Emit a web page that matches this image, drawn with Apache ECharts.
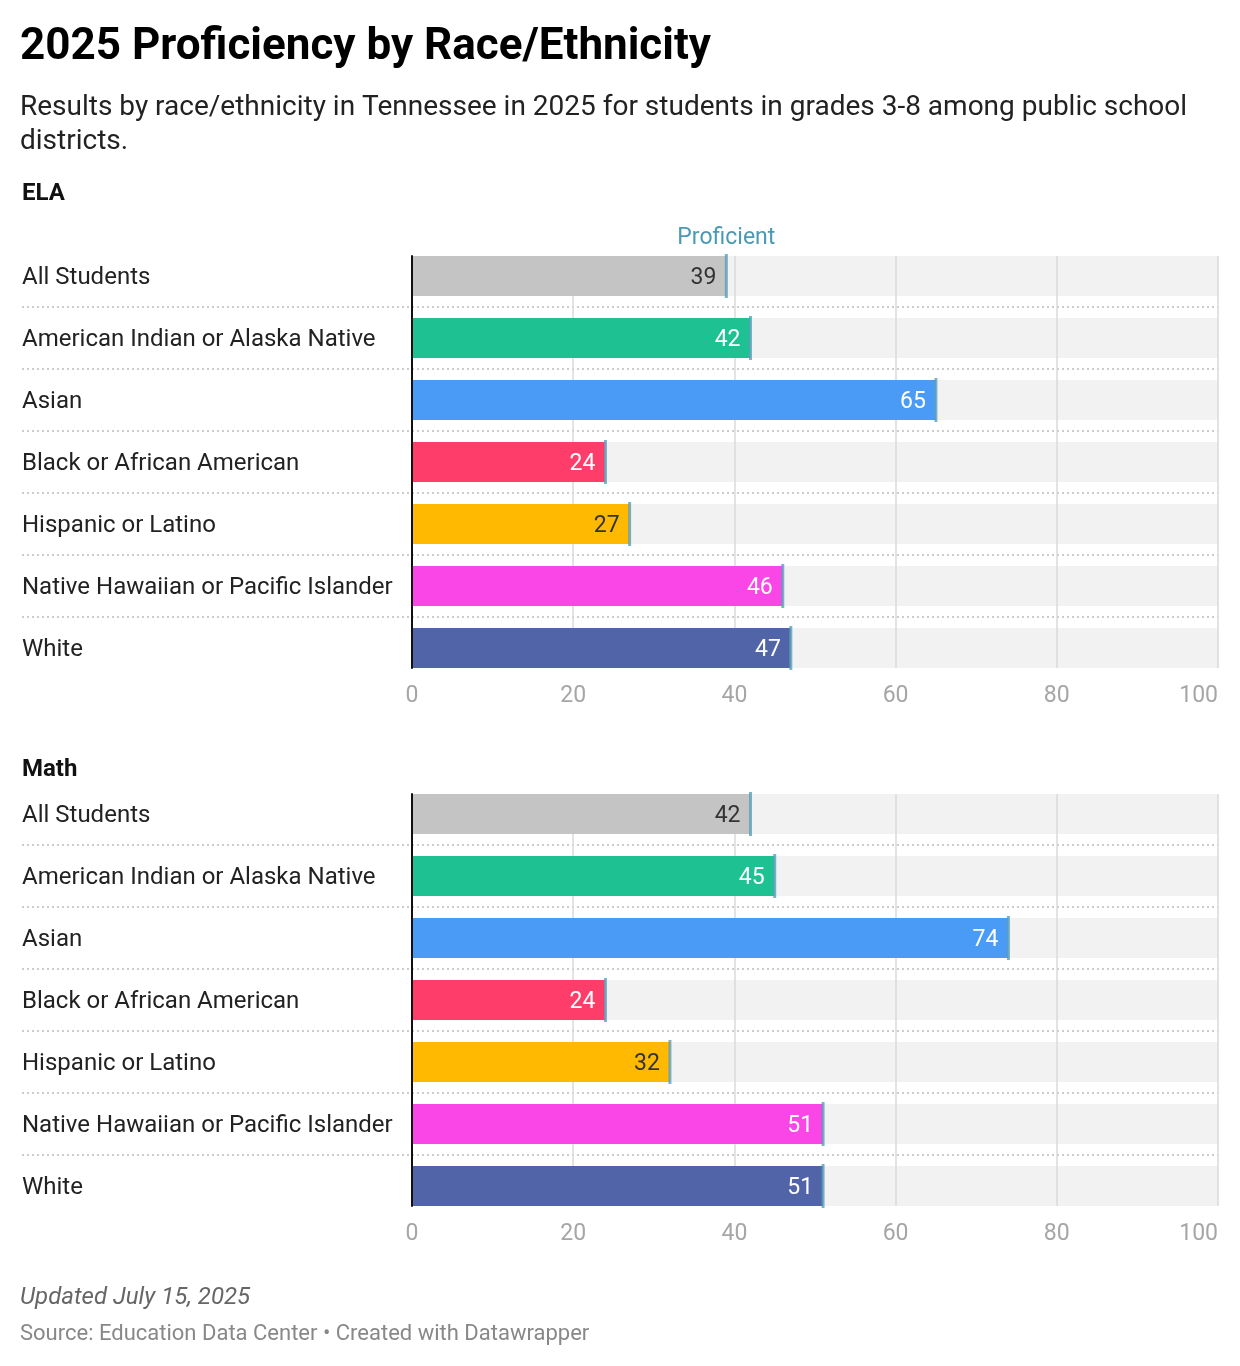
<!DOCTYPE html>
<html>
<head>
<meta charset="utf-8">
<style>
  html, body { margin: 0; padding: 0; background: #ffffff; }
  #chart { width: 1240px; height: 1366px; }
</style>
<script src="https://cdn.jsdelivr.net/npm/echarts@6/dist/echarts.min.js"></script>
</head>
<body>
<div id="chart"></div>
<script>
// ---- Data ----
const categories = [
  'All Students',
  'American Indian or Alaska Native',
  'Asian',
  'Black or African American',
  'Hispanic or Latino',
  'Native Hawaiian or Pacific Islander',
  'White'
];
const elaValues = [39, 42, 65, 24, 27, 46, 47];
const mathValues = [42, 45, 74, 24, 32, 51, 51];
const xTicks = [0, 20, 40, 60, 80, 100];
const AXIS_MAX = 100;

const barColors = ['#c4c4c4', '#1ec192', '#4a9bf5', '#fe3d6a', '#ffb900', '#fa46e6', '#5164a8'];
const labelColors = ['#333333', '#ffffff', '#ffffff', '#ffffff', '#333333', '#ffffff', '#ffffff'];
const FONT = 'Roboto, "Noto Sans", sans-serif';

function makeSection(idx, top, values, showProficient) {
  const a = idx * 3, b = idx * 3 + 1, c = idx * 3 + 2;
  const grids = [
    { left: 412, right: 22, top: top, height: 434 },
    { left: 412, right: 22, top: top + 11, height: 412 },
    { left: 22, right: 22, top: top + 62, height: 310 }
  ];
  const xAxes = [
    { gridIndex: a, type: 'value', min: 0, max: AXIS_MAX, interval: xTicks[1] - xTicks[0],
      axisLine: { show: false }, axisTick: { show: false }, splitLine: { show: false },
      axisLabel: { show: true, margin: 6, fontSize: 23, color: '#a6a6a6', fontFamily: FONT,
        alignMaxLabel: 'right' } },
    { gridIndex: b, type: 'value', min: 0, max: AXIS_MAX, interval: xTicks[1] - xTicks[0], z: 2,
      axisLine: { show: false }, axisTick: { show: false }, axisLabel: { show: false },
      splitLine: { show: true, lineStyle: { color: '#dadada', width: 1.5 } } },
    { gridIndex: c, type: 'value', min: 0, max: 1, show: false }
  ];
  const yAxes = [
    { gridIndex: a, type: 'category', inverse: true, data: categories,
      axisLine: { show: false }, axisTick: { show: false }, splitLine: { show: false },
      axisLabel: { align: 'left', margin: 390,
        formatter: (v) => '{c|' + v + '}',
        rich: { c: { fontSize: 24, color: '#222222', fontFamily: FONT, padding: [4, 0, 0, 0] } } } },
    { gridIndex: b, type: 'value', min: 0, max: 1, z: 6,
      axisLine: { show: true, onZero: false, lineStyle: { color: '#111111', width: 2 } },
      axisTick: { show: false }, axisLabel: { show: false }, splitLine: { show: false } },
    { gridIndex: c, type: 'value', min: 0, max: 5, interval: 1, z: 1,
      axisLine: { show: false }, axisTick: { show: false }, axisLabel: { show: false },
      splitLine: { show: true, lineStyle: { color: '#cccccc', width: 2, type: [2, 3] } } }
  ];
  const series = [
    { type: 'bar', xAxisIndex: a, yAxisIndex: a, barWidth: 40, barGap: '-100%', z: 1,
      silent: true, itemStyle: { color: '#f2f2f2' },
      data: categories.map(() => AXIS_MAX) },
    { type: 'bar', xAxisIndex: a, yAxisIndex: a, barWidth: 40, barGap: '-100%', z: 3,
      data: values.map((v, i) => ({
        value: v,
        itemStyle: { color: barColors[i] },
        label: { color: labelColors[i] }
      })),
      label: { show: true, position: 'insideRight', distance: 10, offset: [0, 2],
        fontSize: 23, fontFamily: FONT } },
    { type: 'scatter', xAxisIndex: a, yAxisIndex: a, symbol: 'rect', symbolSize: [3, 44], z: 5,
      itemStyle: { color: '#5a9fb9' },
      data: values.map((v, i) => {
        const item = { value: [v, categories[i]] };
        if (showProficient && i === 0) {
          item.label = { show: true, position: 'top', distance: 4, formatter: 'Proficient',
            fontSize: 23, color: '#1d81a2', fontFamily: FONT };
        }
        return item;
      }) }
  ];
  return { grids, xAxes, yAxes, series };
}

const ela = makeSection(0, 245, elaValues, true);
const math = makeSection(1, 783, mathValues, false);

const option = {
  animation: false,
  backgroundColor: '#ffffff',
  textStyle: { fontFamily: FONT },
  title: [
    { text: '2025 Proficiency by Race/Ethnicity', left: 20, top: 22, padding: 0,
      textStyle: { fontSize: 44, fontWeight: 'bold', color: '#000000', lineHeight: 52, fontFamily: FONT } },
    { text: 'Results by race/ethnicity in Tennessee in 2025 for students in grades 3-8 among public school\ndistricts.',
      left: 20, top: 91, padding: 0,
      textStyle: { fontSize: 28, fontWeight: 'normal', color: '#222222', lineHeight: 34, fontFamily: FONT } },
    { text: 'ELA', left: 22, top: 181, padding: 0,
      textStyle: { fontSize: 24, fontWeight: 'bold', color: '#111111', lineHeight: 26, fontFamily: FONT } },
    { text: 'Math', left: 22, top: 757, padding: 0,
      textStyle: { fontSize: 24, fontWeight: 'bold', color: '#111111', lineHeight: 26, fontFamily: FONT } },
    { text: 'Updated July 15, 2025', left: 20, top: 1285, padding: 0,
      textStyle: { fontSize: 24, fontWeight: 'normal', fontStyle: 'italic', color: '#666666', lineHeight: 26, fontFamily: FONT } },
    { text: 'Source: Education Data Center \u2022 Created with Datawrapper', left: 20, top: 1322, padding: 0,
      textStyle: { fontSize: 22, fontWeight: 'normal', color: '#888888', lineHeight: 24, fontFamily: FONT } }
  ],
  grid: [...ela.grids, ...math.grids],
  xAxis: [...ela.xAxes, ...math.xAxes],
  yAxis: [...ela.yAxes, ...math.yAxes],
  series: [...ela.series, ...math.series]
};

const chart = echarts.init(document.getElementById('chart'), null, { renderer: 'canvas' });
chart.setOption(option);
</script>
</body>
</html>
